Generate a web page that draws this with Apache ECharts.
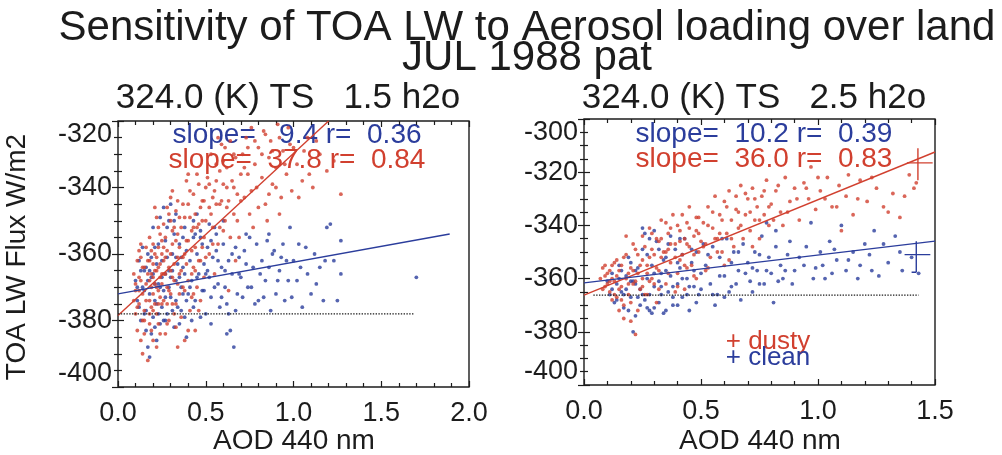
<!DOCTYPE html>
<html>
<head>
<meta charset="utf-8">
<script src="https://cdn.jsdelivr.net/npm/echarts@6/dist/echarts.min.js"></script>
<style>
  html, body { margin: 0; padding: 0; background: #fff; }
  #chart { width: 1002px; height: 455px; }
</style>
</head>
<body>
<div id="chart"></div>
<script>
// ---- data ----
const leftXMax = 2.0
const rightXMax = 1.5
const leftYMax = -320
const rightYMax = -300
const yMin = -400

// left panel: 324.0 (K) TS 1.5 h2o
const leftDusty = [
  [0.09,-366],[0.10,-371],[0.11,-362],[0.12,-375],[0.13,-368],[0.14,-380],[0.10,-378],[0.12,-359],[0.15,-364],[0.13,-386],
  [0.11,-383],[0.14,-372],[0.09,-374],[0.15,-377],[0.12,-367],[0.16,-358],[0.14,-390],[0.17,-392],[0.10,-369],[0.13,-361],
  [0.15,-384],[0.16,-369],[0.11,-376],[0.17,-366],[0.18,-381],
  [0.18,-362],[0.19,-370],[0.20,-357],[0.21,-375],[0.22,-365],[0.23,-352],[0.19,-383],[0.20,-367],[0.21,-360],[0.22,-378],
  [0.23,-371],[0.24,-363],[0.25,-356],[0.18,-374],[0.19,-359],[0.20,-386],[0.21,-369],[0.22,-349],[0.23,-381],[0.24,-373],
  [0.25,-366],[0.18,-355],[0.20,-377],[0.22,-361],[0.24,-384],[0.25,-360],[0.21,-346],[0.23,-364],[0.19,-366],[0.24,-354],
  [0.20,-372],[0.22,-388],[0.25,-375],[0.18,-368],[0.23,-358],
  [0.26,-362],[0.27,-355],[0.28,-370],[0.29,-348],[0.30,-360],[0.31,-367],[0.32,-352],[0.33,-375],[0.34,-344],[0.35,-358],
  [0.26,-374],[0.27,-366],[0.28,-359],[0.29,-380],[0.30,-350],[0.31,-341],[0.32,-363],[0.33,-356],[0.34,-369],[0.35,-349],
  [0.26,-351],[0.28,-346],[0.30,-372],[0.32,-378],[0.34,-361],[0.27,-384],[0.29,-364],[0.31,-357],[0.33,-347],[0.35,-372],
  [0.28,-381],[0.30,-343],[0.32,-368],[0.34,-354],[0.26,-366],
  [0.36,-352],[0.37,-345],[0.38,-360],[0.39,-338],[0.40,-356],[0.41,-349],[0.42,-366],[0.43,-342],[0.44,-358],[0.45,-336],
  [0.46,-351],[0.47,-362],[0.48,-344],[0.49,-355],[0.50,-340],[0.37,-370],[0.39,-363],[0.41,-341],[0.43,-372],[0.45,-352],
  [0.47,-346],[0.49,-367],[0.38,-349],[0.40,-336],[0.42,-353],[0.44,-348],[0.46,-377],[0.48,-358],[0.50,-350],[0.44,-365],
  [0.51,-337],[0.52,-346],[0.53,-330],[0.54,-352],[0.55,-341],[0.56,-333],[0.57,-357],[0.58,-345],[0.59,-327],[0.60,-339],
  [0.61,-350],[0.62,-334],[0.63,-344],[0.64,-326],[0.65,-338],[0.66,-348],[0.67,-331],[0.68,-342],[0.69,-355],[0.70,-336],
  [0.52,-360],[0.55,-366],[0.58,-335],[0.61,-328],[0.63,-371],[0.66,-340],[0.54,-343],[0.57,-325],[0.60,-353],[0.67,-362],
  [0.71,-330],[0.72,-343],[0.73,-325],[0.74,-336],[0.75,-348],[0.76,-322],[0.78,-333],[0.79,-340],[0.80,-328],[0.82,-337],
  [0.83,-323],[0.84,-345],[0.86,-331],[0.87,-326],[0.88,-339],[0.90,-334],[0.91,-321],[0.93,-343],[0.94,-329],[0.96,-336],
  [0.98,-327],[0.77,-352],[0.85,-350],[0.92,-348],[0.99,-341],
  [1.02,-333],[1.05,-338],[1.08,-325],[1.11,-340],[1.15,-330],[1.19,-335],[1.23,-332],[1.27,-342],
  [0.31,-375],[0.33,-382],[0.35,-366],[0.36,-379],[0.37,-361],[0.38,-371],[0.39,-356],[0.40,-368],[0.41,-377],[0.42,-359],
  [0.43,-364],[0.44,-383],[0.45,-370],[0.46,-362],[0.47,-374],[0.40,-383],[0.38,-386],[0.36,-365],[0.42,-373],[0.34,-388],
  [0.12,-371],[0.14,-364],[0.16,-374],[0.18,-378],[0.20,-363],[0.22,-370],[0.24,-367],[0.26,-358],[0.28,-375],[0.30,-365],
  [0.13,-357],[0.15,-380],[0.17,-362],[0.19,-376],[0.21,-365],[0.23,-375],[0.25,-369],[0.27,-361],[0.29,-371],[0.31,-353],
  [0.48,-350],[0.50,-361],[0.52,-339],[0.54,-357],[0.56,-345],[0.58,-352],[0.60,-332],[0.62,-346],[0.64,-355],[0.66,-330],
  [0.68,-350],[0.70,-344],[0.72,-334],[0.74,-328],[0.76,-341],[0.78,-326],[0.80,-346],[0.82,-330],[0.84,-324],[0.86,-342],
  [0.88,-329],[0.90,-340],[0.92,-325],[0.95,-333],[0.97,-322],[1.00,-328],[1.03,-343],[1.06,-329],[1.09,-336],[1.13,-326],
  [0.40,-345],[0.43,-352],[0.46,-339],[0.49,-344],[0.53,-348],[0.56,-338],[0.59,-344],[0.62,-340]
]
const leftClean = [
  [0.10,-368],[0.11,-374],[0.12,-362],[0.13,-380],[0.14,-370],[0.15,-365],[0.16,-377],[0.17,-360],[0.18,-372],[0.19,-384],
  [0.20,-366],[0.21,-358],[0.22,-375],[0.23,-369],[0.24,-381],[0.25,-362],[0.26,-371],[0.27,-356],[0.28,-378],[0.29,-365],
  [0.30,-373],[0.31,-360],[0.32,-382],[0.33,-368],[0.34,-376],[0.35,-357],[0.36,-370],[0.37,-364],[0.38,-379],[0.39,-385],
  [0.12,-376],[0.14,-358],[0.16,-383],[0.18,-365],[0.20,-379],[0.22,-363],[0.24,-370],[0.26,-380],[0.28,-361],[0.30,-367],
  [0.32,-354],[0.34,-363],[0.36,-377],[0.38,-366],[0.40,-372],[0.15,-371],[0.17,-388],[0.19,-367],[0.21,-374],[0.23,-357],
  [0.25,-376],[0.27,-366],[0.29,-350],[0.31,-377],[0.33,-361],[0.35,-381],[0.37,-355],[0.39,-374],[0.18,-391],[0.22,-386],
  [0.26,-346],[0.28,-352],[0.24,-349],[0.30,-345],[0.33,-348],[0.20,-352],[0.16,-364],[0.21,-382],[0.27,-373],[0.36,-361],
  [0.41,-362],[0.42,-368],[0.43,-355],[0.44,-374],[0.45,-360],[0.46,-366],[0.47,-355],[0.48,-371],[0.49,-363],[0.50,-378],
  [0.51,-358],[0.52,-367],[0.53,-373],[0.54,-361],[0.55,-352],[0.56,-359],[0.57,-369],[0.58,-376],[0.59,-364],[0.60,-357],
  [0.61,-370],[0.62,-375],[0.63,-362],[0.64,-383],[0.65,-366],[0.66,-388],[0.67,-358],[0.68,-372],[0.69,-361],[0.70,-367],
  [0.45,-348],[0.52,-351],[0.62,-384],
  [0.72,-359],[0.74,-370],[0.75,-355],[0.77,-364],[0.79,-357],[0.80,-374],[0.82,-362],[0.84,-368],[0.85,-356],[0.87,-377],
  [0.88,-360],[0.89,-359],[0.90,-372],[0.92,-365],[0.93,-361],[0.95,-374],[0.97,-368],[1.00,-362],[1.02,-368],[1.03,-357],
  [1.05,-376],[1.08,-366],[1.10,-372],[1.12,-360],[1.15,-364],[1.17,-374],[1.19,-352],[1.21,-351],[1.23,-362],[1.25,-374],
  [1.27,-366],[1.27,-356],[0.98,-352],[1.70,-367],
  [0.41,-370],[0.43,-376],[0.45,-367],[0.47,-379],[0.49,-371],[0.51,-365],[0.53,-381],[0.55,-370],[0.57,-362],[0.59,-373],
  [0.61,-365],[0.63,-378],[0.65,-360],[0.67,-377],[0.69,-366],[0.71,-373],[0.73,-363],[0.76,-370],[0.78,-375],[0.81,-366],
  [0.83,-373],[0.86,-364],[0.91,-368],[0.94,-357],[0.96,-362],[0.99,-373],[1.04,-364],[1.07,-358],[1.13,-369],[1.18,-362],
  [0.11,-370],[0.13,-365],[0.15,-378],[0.17,-368],[0.19,-361],[0.21,-369],[0.23,-378],[0.25,-367],[0.27,-380],[0.29,-370],
  [0.31,-365],[0.33,-374],[0.35,-367],[0.37,-372],[0.39,-359],[0.42,-380],[0.44,-354],[0.48,-357],[0.50,-366],[0.53,-356],
  [0.32,-350],[0.38,-352],[0.43,-350],[0.47,-353],[0.56,-354],[0.60,-350],[0.73,-354],[0.86,-354]
]
const leftDustyFit = [[0, -378.5], [1.2, -320]]
const leftCleanFit = [[0, -372], [1.89, -354]]
const leftBaseline = [[0, -378], [1.69, -378]]

// right panel: 324.0 (K) TS 2.5 h2o
const rightDusty = [
  [0.07,-360],[0.08,-356],[0.09,-363],[0.10,-358],[0.11,-365],[0.12,-355],[0.13,-361],[0.14,-367],[0.15,-357],[0.16,-363],
  [0.17,-352],[0.18,-360],[0.19,-366],[0.20,-356],[0.21,-362],[0.22,-349],[0.23,-358],[0.24,-364],[0.25,-353],[0.08,-364],
  [0.09,-359],[0.10,-362],[0.11,-357],[0.12,-368],[0.13,-354],[0.14,-359],[0.15,-364],[0.16,-355],[0.17,-370],[0.18,-351],
  [0.19,-358],[0.20,-369],[0.21,-347],[0.22,-361],[0.23,-372],[0.24,-355],[0.25,-360],[0.17,-375],[0.18,-344],[0.22,-381],
  [0.20,-376],[0.15,-372],[0.26,-366],[0.11,-361],[0.13,-366],
  [0.26,-348],[0.27,-355],[0.28,-341],[0.29,-360],[0.30,-351],[0.31,-345],[0.32,-357],[0.33,-338],[0.34,-350],[0.35,-362],
  [0.36,-343],[0.37,-354],[0.38,-336],[0.39,-347],[0.40,-358],[0.41,-342],[0.42,-351],[0.43,-364],[0.44,-339],[0.45,-348],
  [0.46,-355],[0.47,-344],[0.48,-360],[0.49,-337],[0.50,-346],[0.27,-366],[0.29,-343],[0.31,-369],[0.33,-352],[0.35,-339],
  [0.37,-347],[0.39,-365],[0.41,-353],[0.43,-345],[0.45,-333],[0.47,-359],[0.49,-350],[0.28,-352],[0.32,-346],[0.36,-358],
  [0.40,-340],[0.44,-356],[0.48,-342],[0.30,-362],[0.42,-336],
  [0.51,-339],[0.52,-347],[0.53,-333],[0.54,-352],[0.55,-341],[0.56,-329],[0.57,-345],[0.58,-336],[0.59,-350],[0.60,-331],
  [0.61,-343],[0.62,-327],[0.63,-338],[0.64,-348],[0.65,-334],[0.66,-341],[0.67,-325],[0.68,-345],[0.69,-336],[0.70,-330],
  [0.71,-342],[0.72,-326],[0.73,-338],[0.74,-333],[0.75,-345],[0.76,-329],[0.77,-336],[0.78,-323],[0.79,-340],[0.80,-332],
  [0.53,-356],[0.58,-343],[0.62,-353],[0.66,-335],[0.72,-348],
  [0.82,-327],[0.84,-335],[0.86,-322],[0.88,-331],[0.90,-326],[0.92,-338],[0.94,-324],[0.96,-330],[0.97,-318],[0.99,-334],
  [1.01,-327],[1.04,-322],[1.06,-333],[1.09,-325],[1.12,-329],[1.15,-336],[1.18,-323],[1.21,-331],[1.25,-326],[1.28,-333],
  [1.32,-328],[1.35,-337],[1.39,-321],[1.41,-326],[1.42,-324],[0.85,-340],[1.10,-342],
  [0.09,-355],[0.12,-360],[0.14,-353],[0.16,-368],[0.19,-362],[0.21,-357],[0.23,-351],[0.25,-363],[0.27,-358],[0.29,-349],
  [0.31,-356],[0.33,-345],[0.35,-350],[0.37,-341],[0.39,-352],[0.41,-346],[0.43,-355],[0.45,-341],[0.47,-351],[0.49,-343],
  [0.51,-348],[0.53,-340],[0.55,-335],[0.57,-350],[0.59,-338],[0.61,-333],[0.63,-345],[0.65,-329],[0.67,-340],[0.69,-328],
  [0.71,-335],[0.73,-330],[0.75,-338],[0.77,-327],[0.79,-333],[0.81,-338],[0.83,-325],[0.87,-335],[0.91,-330],[0.95,-326],
  [0.25,-344],[0.28,-361],[0.32,-364],[0.36,-349],[0.40,-363],[0.44,-347],[0.48,-337],[0.52,-357],[0.56,-345],[0.60,-355],
  [1.00,-322],[1.03,-330],[1.08,-333],[1.13,-321],[1.17,-330],[1.23,-322],[1.30,-335],[1.37,-329]
]
const rightClean = [
  [0.10,-361],[0.11,-366],[0.12,-358],[0.13,-369],[0.14,-362],[0.15,-355],[0.16,-365],[0.17,-371],[0.18,-359],[0.19,-352],
  [0.20,-367],[0.21,-361],[0.22,-374],[0.23,-356],[0.24,-364],[0.25,-349],[0.26,-368],[0.27,-360],[0.28,-372],[0.29,-355],
  [0.30,-363],[0.31,-346],[0.32,-369],[0.33,-358],[0.34,-373],[0.35,-352],[0.36,-365],[0.37,-359],[0.38,-370],[0.39,-349],
  [0.40,-362],[0.41,-356],[0.42,-367],[0.43,-345],[0.44,-360],[0.45,-372],[0.46,-354],[0.47,-363],[0.48,-350],[0.49,-366],
  [0.50,-358],[0.14,-368],[0.16,-357],[0.18,-364],[0.20,-354],[0.22,-362],[0.24,-370],[0.26,-343],[0.28,-366],[0.30,-371],
  [0.32,-361],[0.34,-353],[0.36,-347],[0.38,-363],[0.40,-354],[0.42,-360],[0.44,-366],[0.46,-349],[0.48,-369],[0.25,-341],
  [0.30,-342],[0.35,-372],[0.29,-373],[0.33,-366],[0.21,-380],[0.27,-351],[0.23,-367],[0.19,-372],[0.37,-344],
  [0.52,-355],[0.54,-362],[0.55,-348],[0.57,-366],[0.58,-352],[0.60,-359],[0.61,-345],[0.63,-363],[0.64,-350],[0.66,-357],
  [0.67,-368],[0.68,-347],[0.70,-354],[0.71,-361],[0.73,-350],[0.74,-357],[0.76,-344],[0.77,-362],[0.79,-352],[0.80,-358],
  [0.81,-369],[0.82,-348],[0.84,-355],[0.85,-360],[0.87,-351],[0.88,-346],[0.90,-357],[0.56,-370],[0.62,-365],[0.72,-365],
  [0.78,-339],
  [0.92,-352],[0.95,-348],[0.97,-339],[0.99,-356],[1.01,-350],[1.03,-360],[1.05,-346],[1.08,-353],[1.10,-340],[1.12,-357],
  [1.15,-350],[1.18,-355],[1.20,-347],[1.24,-342],[1.26,-359],[1.30,-354],[1.33,-344],[1.36,-357],[1.40,-352],[1.43,-358],
  [1.06,-358],[1.22,-351],
  [0.12,-364],[0.15,-360],[0.17,-366],[0.20,-361],[0.22,-357],[0.25,-366],[0.27,-371],[0.30,-358],[0.33,-363],[0.35,-357],
  [0.38,-367],[0.40,-370],[0.42,-351],[0.45,-363],[0.47,-357],[0.50,-364],[0.53,-351],[0.55,-366],[0.58,-359],[0.60,-367],
  [0.63,-354],[0.65,-362],[0.69,-358],[0.72,-356],[0.75,-362],[0.78,-357],[0.83,-361],[0.86,-357],[0.89,-362],[0.94,-355],
  [0.98,-360],[1.02,-355],[1.07,-349],[1.13,-353],[1.17,-360],[1.23,-357],[1.28,-347],[1.35,-350],
  [0.28,-345],[0.32,-349],[0.41,-345],[0.51,-347],[0.59,-345],[0.66,-350],[0.75,-351],[0.82,-342]
]
const rightDustyFit = [[0, -366.2], [1.5, -312.4]]
const rightCleanFit = [[0, -361.6], [1.5, -345.9]]
const rightBaseline = [[0.04, -366.2], [1.43, -366.2]]
// error crosses in the upper right corner of the right panel
const rightDustyErrV = [[1.427, -311], [1.427, -323]]
const rightDustyErrH = [[1.38, -316.5], [1.49, -316.5]]
const rightCleanErrV = [[1.42, -346], [1.42, -357.6]]
const rightCleanErrH = [[1.37, -351], [1.48, -351]]
const rightCleanErrFoot = [[1.40, -357.6], [1.42, -357.6]]

const red = '#d1402f'
const blue = '#2b3d9c'
const ink = '#1c1c1c'
const font = 'Liberation Sans, Arial, Helvetica, sans-serif'

function xAxes (gridIndex, max) {
  const base = {
    type: 'value',
    gridIndex: gridIndex,
    min: 0,
    max: max,
    interval: 0.5,
    axisLine: { show: false },
    axisTick: { show: true, inside: true, length: 6, lineStyle: { color: ink, width: 1.2 } },
    minorTick: { show: true, splitNumber: 5, length: 4, lineStyle: { color: ink, width: 1.2 } },
    splitLine: { show: false }
  }
  return [
    Object.assign({}, base, {
      position: 'bottom',
      axisLabel: {
        margin: 13,
        fontSize: 27,
        fontFamily: font,
        color: ink,
        formatter: v => v.toFixed(1)
      }
    }),
    Object.assign({}, base, { position: 'top', axisLabel: { show: false } })
  ]
}

function yAxes (gridIndex, max) {
  const base = {
    type: 'value',
    gridIndex: gridIndex,
    min: yMin,
    max: max,
    interval: 20,
    axisLine: { show: false },
    axisTick: { show: true, inside: true, length: 6, lineStyle: { color: ink, width: 1.2 } },
    minorTick: { show: true, splitNumber: 4, length: 4, lineStyle: { color: ink, width: 1.2 } },
    splitLine: { show: false }
  }
  return [
    Object.assign({}, base, {
      position: 'left',
      axisLabel: {
        margin: 6,
        fontSize: 27,
        fontFamily: font,
        color: ink,
        verticalAlignMinLabel: 'bottom',
        verticalAlignMaxLabel: 'top'
      }
    }),
    Object.assign({}, base, { position: 'right', axisLabel: { show: false } })
  ]
}

function dots (data, color, axis) {
  return {
    type: 'scatter',
    xAxisIndex: axis,
    yAxisIndex: axis,
    data: data,
    symbol: 'circle',
    symbolSize: 3.8,
    itemStyle: { color: color },
    silent: true
  }
}

function segment (data, color, axis, dash, width) {
  return {
    type: 'line',
    xAxisIndex: axis,
    yAxisIndex: axis,
    data: data,
    showSymbol: false,
    symbol: 'none',
    lineStyle: { color: color, width: width || 1.4, type: dash || 'solid' },
    silent: true,
    z: 3
  }
}

function label (text, x, y, size, color, rotate) {
  return {
    type: 'text',
    x: x,
    y: y,
    rotation: rotate || 0,
    style: {
      text: text,
      font: size + 'px ' + font,
      fill: color,
      align: 'center',
      verticalAlign: 'middle'
    }
  }
}

const chart = echarts.init(document.getElementById('chart'), null, { renderer: 'canvas' })

chart.setOption({
  animation: false,
  backgroundColor: '#fff',
  grid: [
    { left: 118, top: 121, width: 351, height: 266, show: true, borderColor: ink, borderWidth: 1.4, backgroundColor: 'transparent' },
    { left: 584, top: 119, width: 351, height: 266, show: true, borderColor: ink, borderWidth: 1.4, backgroundColor: 'transparent' }
  ],
  // axis order: 0 left-bottom, 1 left-top, 2 right-bottom, 3 right-top
  xAxis: [].concat(xAxes(0, leftXMax), xAxes(1, rightXMax)),
  yAxis: [].concat(yAxes(0, leftYMax), yAxes(1, rightYMax)),
  series: [
    dots(leftClean, blue, 0),
    dots(leftDusty, red, 0),
    segment(leftDustyFit, red, 0),
    segment(leftCleanFit, blue, 0),
    segment(leftBaseline, ink, 0, 'dotted', 1.4),

    dots(rightClean, blue, 2),
    dots(rightDusty, red, 2),
    segment(rightDustyFit, red, 2),
    segment(rightCleanFit, blue, 2),
    segment(rightBaseline, ink, 2, 'dotted', 1.4),
    segment(rightDustyErrV, red, 2),
    segment(rightDustyErrH, red, 2),
    segment(rightCleanErrV, blue, 2),
    segment(rightCleanErrH, blue, 2),
    segment(rightCleanErrFoot, blue, 2)
  ],
  graphic: [
    label('Sensitivity of TOA LW to Aerosol loading over land', 527, 28, 42, ink),
    label('JUL 1988 pat', 527, 58, 42, ink),
    label('324.0 (K) TS   1.5 h2o', 288, 98, 35, ink),
    label('324.0 (K) TS   2.5 h2o', 754, 98, 35, ink),
    label('TOA LW Flux W/m2', 17, 257, 28, ink, Math.PI / 2),
    label('AOD 440 nm', 294, 441, 28, ink),
    label('AOD 440 nm', 760, 441, 28, ink),
    label('slope=   9.4 r=  0.36', 297, 135, 28, blue),
    label('slope=  37.8 r=  0.84', 297, 160, 28, red),
    label('slope=  10.2 r=  0.39', 764, 134, 28, blue),
    label('slope=  36.0 r=  0.83', 764, 159, 28, red),
    label('+ dusty', 768, 342, 26, red),
    label('+ clean', 768, 358, 26, blue)
  ]
})
</script>
</body>
</html>
